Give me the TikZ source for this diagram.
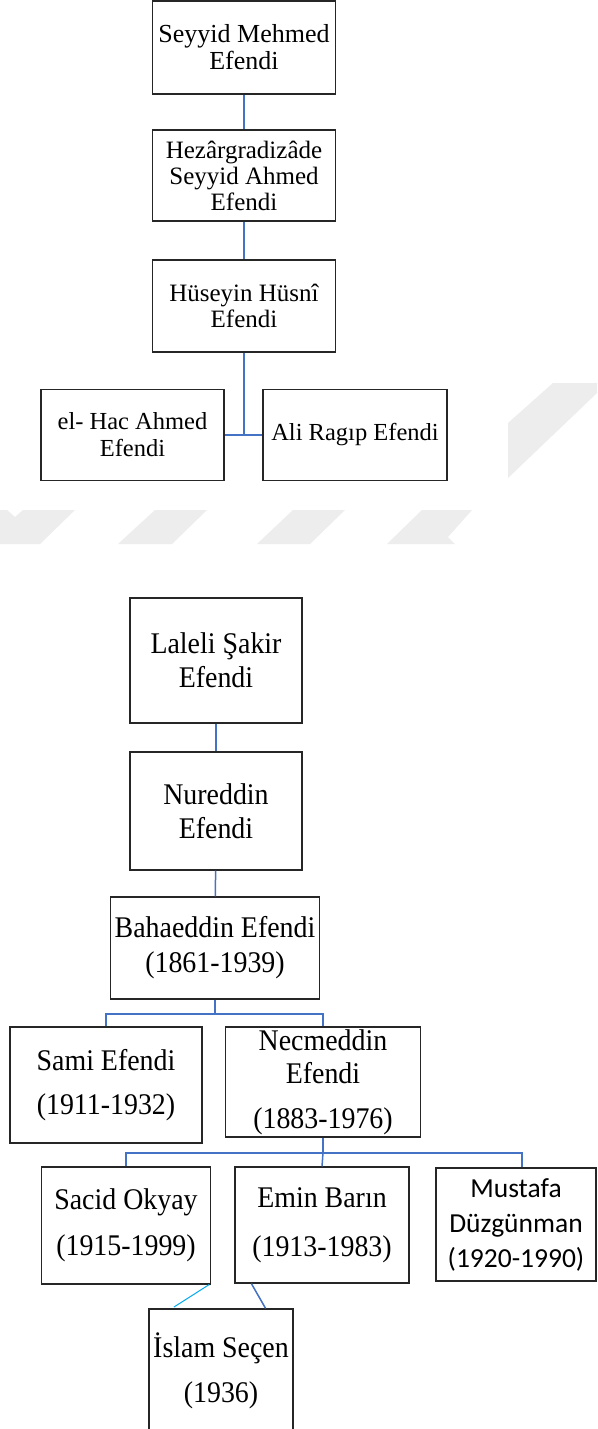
\documentclass[tikz,border=0pt]{standalone}
\usepackage{fontspec}
\setmainfont{Liberation Serif}
\newfontfamily\carlito{Carlito}
\newfontfamily\tallserif[FakeStretch=0.93]{Liberation Serif}
\definecolor{boxc}{RGB}{38,38,38}
\definecolor{linec}{RGB}{68,114,196}
\definecolor{cyanc}{RGB}{0,170,240}
\definecolor{wm}{RGB}{237,237,237}
\newcommand{\fsz}[2]{\fontsize{#1}{#2}\selectfont}
\tikzset{
  fambox/.style={draw=boxc, line width=1.2pt, align=center, inner sep=0pt, fill=white},
  link/.style={draw=linec, line width=1.5pt},
  thicklink/.style={draw=linec, line width=2.6pt},
  cyanlink/.style={draw=cyanc, line width=1pt},
  wmark/.style={fill=wm, draw=none}
}
\begin{document}
\begin{tikzpicture}[x=1pt, y=-1pt]
\useasboundingbox (0,0) rectangle (597,1429);
\clip (0,0) rectangle (597,1429);
\fill[white] (0,0) rectangle (597,1429);
% watermark fragments
\fill[wmark] (0,510) -- (7,510) -- (15,517) -- (23,510) -- (75,510) -- (40,544) -- (0,544) -- cycle;
\fill[wmark] (155,510) -- (207,510) -- (172,544) -- (118,544) -- cycle;
\fill[wmark] (293,510) -- (345,510) -- (310,544) -- (257,544) -- cycle;
\fill[wmark] (422,510) -- (472,510) -- (448,537) -- (455,544) -- (387,544) -- cycle;
\fill[wmark] (508,423) -- (553,383) -- (597,383) -- (597,393) -- (508,478) -- cycle;

% ---- first tree ----
\node[fambox, minimum width=183pt, minimum height=93pt, font=\fsz{26}{27}] (b1) at (244,47.5) {Seyyid Mehmed\\Efendi};
\node[fambox, minimum width=183pt, minimum height=91pt, font=\fsz{25}{26}] (b2) at (244,175.5) {Hezârgradizâde\\Seyyid Ahmed\\Efendi};
\node[fambox, minimum width=183pt, minimum height=92pt, font=\fsz{25}{26}] (b3) at (244,306) {Hüseyin Hüsnî\\Efendi};
\node[fambox, minimum width=183pt, minimum height=91pt, font=\fsz{24.5}{27}] (b4) at (132.5,435) {el- Hac Ahmed\\Efendi};
\node[fambox, minimum width=184pt, minimum height=91pt, font=\fsz{24.5}{27}] (b5) at (355,435) {Ali Ragıp Efendi};
\coordinate (j0) at (244,435);
\draw[link] (b1) -- (b2);
\draw[link] (b2) -- (b3);
\draw[thicklink] (b3.south) -- (j0);
\draw[link] (b4.east) -- (j0) -- (b5.west);

% ---- second tree ----
\node[fambox, minimum width=172pt, minimum height=125pt, font=\tallserif\fsz{30}{34}] (L1) at (216,660.5) {Laleli Şakir\\Efendi};
\node[fambox, minimum width=172pt, minimum height=118pt, font=\tallserif\fsz{30}{34}] (N1) at (216,811) {Nureddin\\Efendi};
\node[fambox, minimum width=209pt, minimum height=102pt, font=\tallserif\fsz{30}{35}] (B1) at (215,948) {Bahaeddin Efendi\\(1861-1939)};
\node[fambox, minimum width=192pt, minimum height=116pt, font=\tallserif\fsz{30}{44}] (S1) at (106,1085) {Sami Efendi\\(1911-1932)};
\node[fambox, minimum width=195pt, minimum height=110pt, font=\tallserif\fsz{30}{33}] (Ne) at (323,1082) {Necmeddin\\Efendi\\[12pt](1883-1976)};
\node[fambox, minimum width=169pt, minimum height=117pt, font=\tallserif\fsz{30}{46}] (Sa) at (126,1225.5) {Sacid Okyay\\(1915-1999)};
\node[fambox, minimum width=174pt, minimum height=116pt, font=\tallserif\fsz{30}{49}] (E) at (322,1225) {Emin Barın\\(1913-1983)};
\node[fambox, minimum width=160pt, minimum height=113pt, font=\carlito\fsz{27.5}{35}] (M) at (516,1224.5) {Mustafa\\Düzgünman\\(1920-1990)};
\node[fambox, minimum width=144pt, minimum height=124pt, font=\tallserif\fsz{30}{45}] (I) at (221,1371) {İslam Seçen\\(1936)};

\draw[link] (L1) -- (N1);
\draw[link] (N1) -- (B1);
\coordinate (j1) at (215,1014);
\draw[link] (B1.south) -- (j1);
\draw[link] (S1.north) |- (j1) -| (Ne.north);
\coordinate (j2) at (323,1153);
\draw[link] (Ne.south) -- (j2);
\draw[link] (Sa.north) |- (j2) -| ([xshift=6pt]M.north);
\draw[link] (j2) -- (E.north);
\coordinate (cfree) at (174,1307);
\draw[cyanlink] ([xshift=-2pt]Sa.south east) -- (cfree);
\draw[link] ([xshift=17pt]E.south west) -- ([xshift=-28pt]I.north east);
\end{tikzpicture}
\end{document}
